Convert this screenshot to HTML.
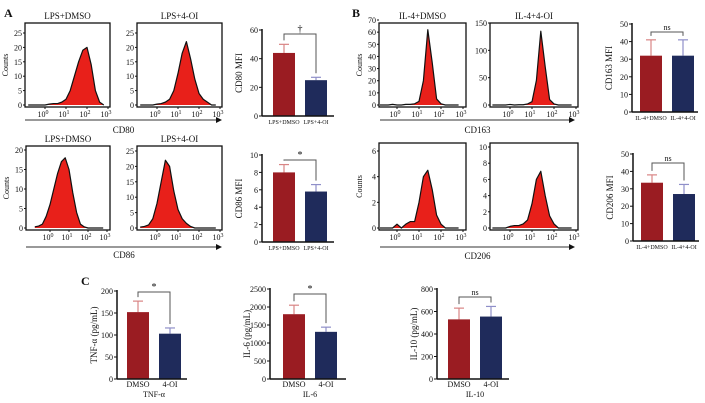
<!DOCTYPE html>
<html><head><meta charset="utf-8">
<style>
html,body{margin:0;padding:0;background:#fff;}
svg{display:block;font-family:"Liberation Serif",serif;}
</style></head>
<body>
<svg id="fig" width="705" height="403" viewBox="0 0 705 403" xmlns="http://www.w3.org/2000/svg"></svg>
<script>
// ---------- DATA ----------
const histLogBins = [-0.8,-0.6,-0.4,-0.2,0,0.2,0.4,0.6,0.8,1.0,1.2,1.4,1.6,1.8,2.0,2.2,2.4,2.6,2.8];
const histCD80Dmso = [0,0,0,0,0,0.3,0.5,0.5,1,2,5,10,15,19,20,14,5,1,0];
const histCD80Oi   = [0,0,0,0,0.3,0.5,1,2,5,11,18,22,16,9,4,2,1,0,0];
const histCD86Dmso = [0.3,0.5,1,3,6,10,14,17,18,15,9,4,1,0.3,0,0,0,0,0];
const histCD86Oi   = [0.3,0.5,1,3,8,15,22,20,12,6,3,1.5,0.5,0,0,0,0,0,0];
const histCD163Dmso = [0,0,0,0.5,0,0,0.5,0.5,1,3,20,62,35,5,1,0,0,0,0];
const histCD163Oi   = [0,0,0,0,1,0,0.5,0.5,2,6,45,135,70,10,2,0,0,0,0];
const histCD206Dmso = [0,0,0,0,0.3,0,0.3,0.5,0.5,2,4,4.5,3,1,0.3,0,0,0,0];
const histCD206Oi   = [0,0,0,0,0.2,0.3,0.3,0.5,1,3,6,7,4,1.5,0.5,0,0,0,0];

const cd80Cats = ["LPS+DMSO","LPS+4-OI"];
const cd80Vals = [44,25];
const cd80Errs = [6,2];
const cd86Vals = [8.0,5.8];
const cd86Errs = [0.9,0.8];
const il4Cats = ["IL-4+DMSO","IL-4+4-OI"];
const cd163Vals = [32,32];
const cd163Errs = [9,9];
const cd206Vals = [33.5,27];
const cd206Errs = [4.5,5.5];
const cytoCats = ["DMSO","4-OI"];
const tnfVals = [152,103];
const tnfErrs = [25,13];
const il6Vals = [1800,1310];
const il6Errs = [250,130];
const il10Vals = [530,555];
const il10Errs = [100,90];

const svg = document.getElementById('fig');
const NS = 'http://www.w3.org/2000/svg';
function mk(tag, attrs, name, parent){
  const el = document.createElementNS(NS, tag);
  for (const k in attrs) el.setAttribute(k, attrs[k]);
  
  
  (parent||svg).appendChild(el);
  return el;
}
function txt(x,y,s,size,name,anchor,extra){
  const t = mk('text', Object.assign({x:x,y:y,'font-size':size,'text-anchor':anchor||'middle',fill:'#111'},extra||{}), name);
  t.textContent = s;
  return t;
}
function rtxt(x,y,s,size,name){
  return txt(x,y,s,size,name,'middle',{transform:'rotate(-90 '+x+' '+y+')'});
}

// ---------- histogram ----------
function drawHist(bx0,by0,bx1,by1,zeroX,dec,yTop,ymax,yticks,counts,title,name,showCounts){
  const g = mk('g',{},name);
  const yZero = by1-2;
  const ys = v => yZero - (v/ymax)*(yZero-yTop);
  const xs = l => zeroX + l*dec;
  let pts = [];
  for (let i=0;i<counts.length;i++){
    const x = Math.max(bx0+1, Math.min(bx1-1, xs(histLogBins[i])));
    pts.push(x+','+ys(counts[i]));
  }
  const first = Math.max(bx0+1,xs(histLogBins[0]));
  const last = Math.min(bx1-1,xs(histLogBins[histLogBins.length-1]));
  mk('polygon',{points:first+','+yZero+' '+pts.join(' ')+' '+last+','+yZero,fill:'#e8201a',stroke:'none'},name+'-fill',g);
  mk('polyline',{points:pts.join(' '),fill:'none',stroke:'#111','stroke-width':1.2,'stroke-linejoin':'round'},name+'-outline',g);
  mk('rect',{x:bx0,y:by0,width:bx1-bx0,height:by1-by0,fill:'none',stroke:'#111','stroke-width':1.3},name+'-frame',g);
  yticks.forEach(v=>{
    const y = ys(v);
    mk('line',{x1:bx0-2,x2:bx0,y1:y,y2:y,stroke:'#111'},name+'-ytick',g);
    txt(bx0-3,y+3,String(v),8,name+'-ytick-label','end');
  });
  for (let d=0; d<=3; d++){
    const x = xs(d);
    mk('line',{x1:x,x2:x,y1:by1,y2:by1+2,stroke:'#111'},name+'-xtick',g);
    const t = txt(x-2,by1+10,'10',8,name+'-xtick-label','middle');
    const sp = document.createElementNS(NS,'tspan');
    sp.setAttribute('dy','-3'); sp.setAttribute('font-size','6'); sp.textContent = String(d);
    t.appendChild(sp);
  }
  if (title) txt((bx0+bx1)/2,by0-4,title,9,name+'-title');
  if (showCounts) rtxt(bx0-17,(by0+by1)/2,'Counts',8,name+'-y-title');
}
function arrow(x0,x1,y,label,ly,name){
  mk('line',{x1:x0,x2:x1-5,y1:y,y2:y,stroke:'#333','stroke-width':1},name+'-line');
  mk('polygon',{points:(x1-6)+','+(y-3)+' '+x1+','+y+' '+(x1-6)+','+(y+3),fill:'#111'},name+'-head');
  txt((x0+x1)/2,ly,label,9,name+'-label');
}

// ---------- bar chart ----------
function drawBars(ax,yTop,yZero,max,ticks,vals,errs,cats,ylabel,sig,bracketY,name,groupLabel,off,labSize){
  const g = mk('g',{},name);
  const ys = v => yZero - (v/max)*(yZero-yTop);
  const bw = 22, o = off||10, gap = 10;
  const colors = ['#9a1c22','#1f2b5b'];
  const ecol = ['#d98585','#8f8fc9'];
  const centers = [];
  vals.forEach((v,i)=>{
    const x = ax + o + i*(bw+gap);
    centers.push(x+bw/2);
    const et = ys(v+errs[i]);
    mk('line',{x1:x+bw/2,x2:x+bw/2,y1:ys(v),y2:et,stroke:ecol[i],'stroke-width':1.2},name+'-errbar-'+i,g);
    mk('line',{x1:x+bw/2-5,x2:x+bw/2+5,y1:et,y2:et,stroke:ecol[i],'stroke-width':1.2},name+'-errcap-'+i,g);
    mk('rect',{x:x,y:ys(v),width:bw,height:yZero-ys(v),fill:colors[i]},name+'-bar-'+i,g);
    txt(x+bw/2,yZero+8,cats[i],labSize||7,name+'-xlabel-'+i);
  });
  mk('line',{x1:ax,x2:ax,y1:yTop-1,y2:yZero,stroke:'#111','stroke-width':1.5},name+'-yaxis',g);
  mk('line',{x1:ax,x2:ax+o*2+2*bw+gap-4,y1:yZero,y2:yZero,stroke:'#111','stroke-width':1.5},name+'-xaxis',g);
  ticks.forEach(v=>{
    const y = ys(v);
    mk('line',{x1:ax-3,x2:ax,y1:y,y2:y,stroke:'#111'},name+'-ytick',g);
    txt(ax-4,y+3,String(v),8,name+'-ytick-label','end');
  });
  rtxt(ax-20,(yTop+yZero)/2,ylabel,9,name+'-y-title');
  const t0 = ys(vals[0]+errs[0])-4, t1 = ys(vals[1]+errs[1])-4;
  mk('polyline',{points:centers[0]+','+t0+' '+centers[0]+','+bracketY+' '+centers[1]+','+bracketY+' '+centers[1]+','+t1,fill:'none',stroke:'#555','stroke-width':1},name+'-bracket',g);
  txt((centers[0]+centers[1])/2,bracketY-2,sig,sig==='ns'?8:10,name+'-significance');
  if (groupLabel) txt((centers[0]+centers[1])/2,yZero+18,groupLabel,8,name+'-group-label');
}

// ---------- Panel A ----------
txt(4,17,'A',12,'panel-a-label','start',{'font-weight':'bold'});
drawHist(25,23,110,107,45,21,33,25,[0,5,10,15,20,25],histCD80Dmso,'LPS+DMSO','hist-cd80-dmso',true);
drawHist(137,23,222,107,157,21,33,25,[0,5,10,15,20,25],histCD80Oi,'LPS+4-OI','hist-cd80-4oi',false);
arrow(25,222,120,'CD80',133,'cd80-axis');
drawHist(26,146,110,230,50,19,150,20,[0,5,10,15,20],histCD86Dmso,'LPS+DMSO','hist-cd86-dmso',true);
drawHist(137,146,222,230,157,21,151,25,[0,5,10,15,20,25],histCD86Oi,'LPS+4-OI','hist-cd86-4oi',false);
arrow(26,222,247,'CD86',258,'cd86-axis');
drawBars(262,30,116,60,[0,20,40,60],cd80Vals,cd80Errs,cd80Cats,'CD80 MFI','†',34,'bar-cd80',null,11,6);
drawBars(262,155,242,10,[0,2,4,6,8,10],cd86Vals,cd86Errs,cd80Cats,'CD86 MFI','*',160,'bar-cd86',null,11,6);

// ---------- Panel B ----------
txt(352,17,'B',12,'panel-b-label','start',{'font-weight':'bold'});
drawHist(379,23,466,107,397,22,20,70,[0,10,20,30,40,50,60,70],histCD163Dmso,'IL-4+DMSO','hist-cd163-dmso',true);
drawHist(490,23,578,107,510,22,23,150,[0,50,100,150],histCD163Oi,'IL-4+4-OI','hist-cd163-4oi',false);
arrow(380,575,120,'CD163',133,'cd163-axis');
drawHist(379,143,466,230,397,22,151,6,[0,2,4,6],histCD206Dmso,'','hist-cd206-dmso',true);
drawHist(490,143,578,230,510,22,147,10,[0,2,4,6,8,10],histCD206Oi,'','hist-cd206-4oi',false);
arrow(380,575,247,'CD206',259,'cd206-axis');
drawBars(632,24,112,50,[0,10,20,30,40,50],cd163Vals,cd163Errs,il4Cats,'CD163 MFI','ns',32,'bar-cd163',null,8,6);
drawBars(633,154,241,50,[0,10,20,30,40,50],cd206Vals,cd206Errs,il4Cats,'CD206 MFI','ns',163,'bar-cd206',null,8,6);

// ---------- Panel C ----------
txt(81,285,'C',12,'panel-c-label','start',{'font-weight':'bold'});
drawBars(117,291,379,200,[0,50,100,150,200],tnfVals,tnfErrs,cytoCats,'TNF-α (pg/mL)','*',292,'bar-tnf','TNF-α',10,8);
drawBars(270,289,379,2500,[0,500,1000,1500,2000,2500],il6Vals,il6Errs,cytoCats,'IL-6 (pg/mL)','*',294,'bar-il6','IL-6',13,8);
drawBars(437,289,379,800,[0,200,400,600,800],il10Vals,il10Errs,cytoCats,'IL-10 (pg/mL)','ns',297,'bar-il10','IL-10',11,8);
</script>
</body></html>
